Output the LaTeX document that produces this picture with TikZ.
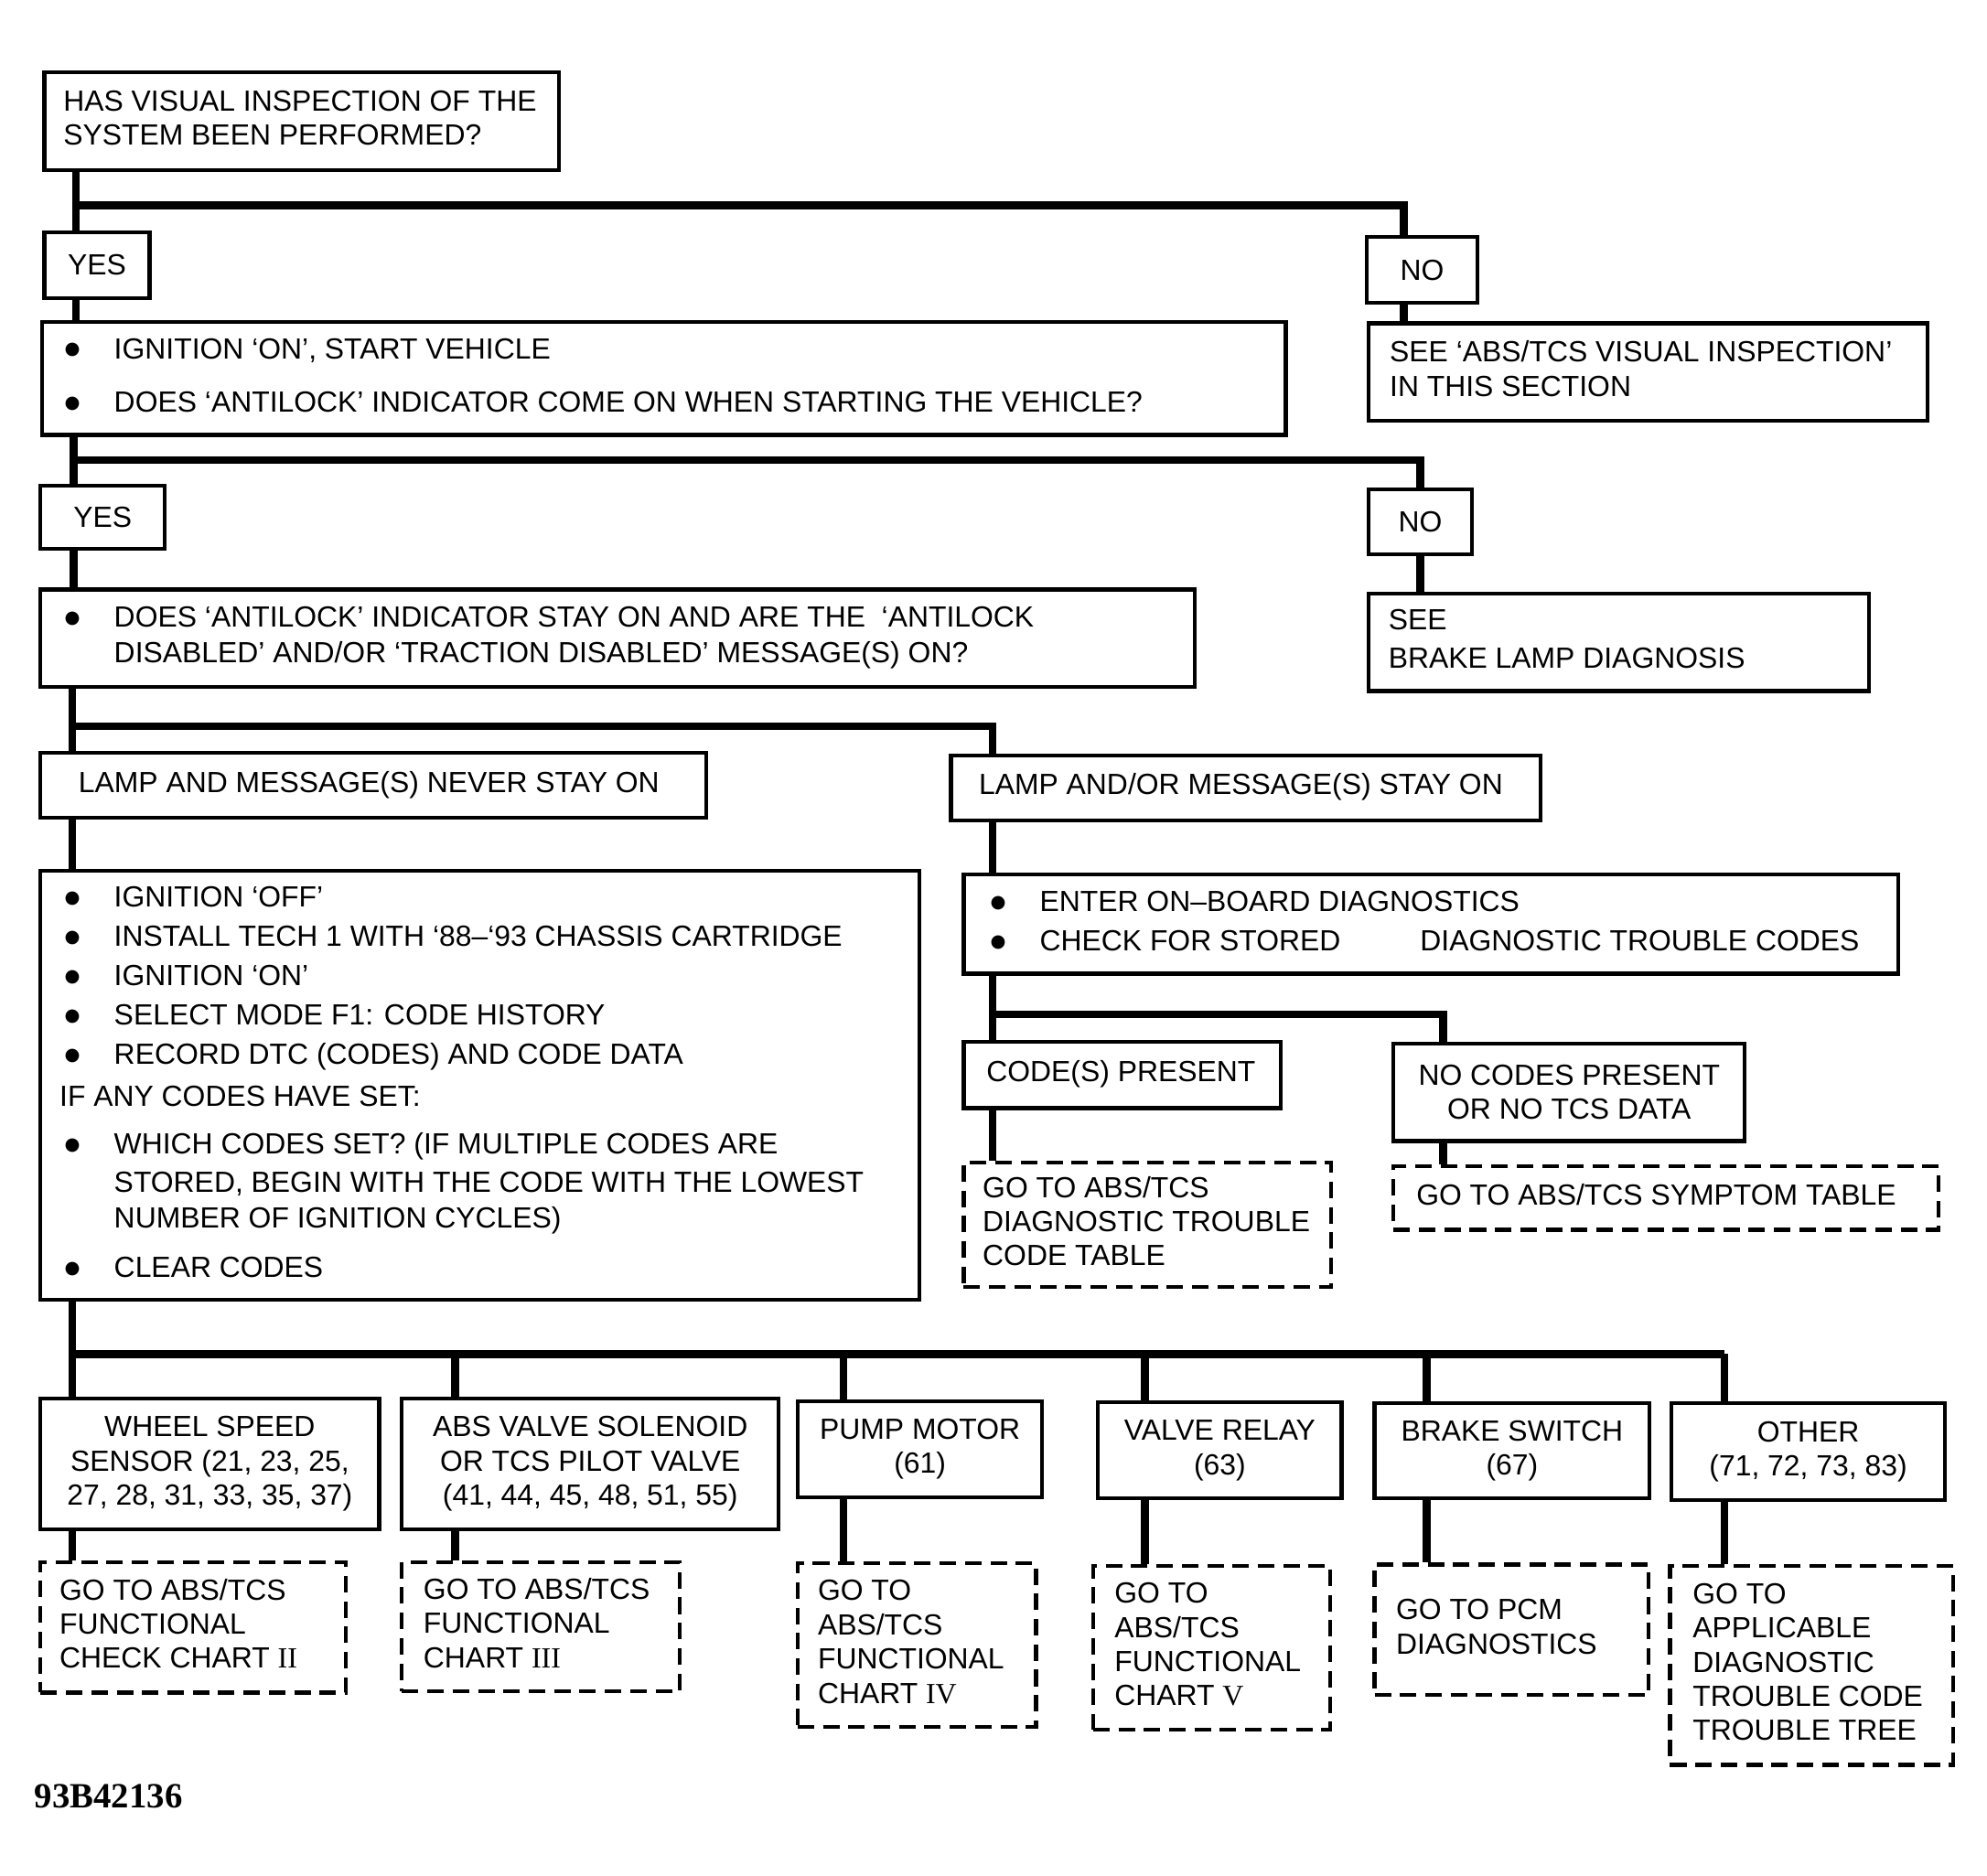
\documentclass[tikz,border=0pt]{standalone}
\usepackage{fontspec}
\setmainfont{Liberation Sans}
\newfontfamily\numfont{Liberation Serif}
\newfontfamily\dotfont{DejaVu Sans}

\newcommand\chartfont{\fontsize{23}{27}\selectfont}
\newcommand\bul{\makebox[39pt][l]{\raisebox{3pt}{\dotfont\fontsize{14}{14}\selectfont ●}}}
\newcommand\bulskip{\hspace*{39pt}}
\newcommand\boxlines[2]{\makebox[#1][l]{\begin{tabular}{@{}l@{}}#2\end{tabular}}}

\begin{document}
\begin{tikzpicture}[x=1pt, y=-1pt, font=\chartfont,
    box/.style={draw, line width=3pt, inner sep=0pt},
    goto/.style={box, dash pattern=on 13pt off 7pt},
    link/.style={line width=6pt}]
  \useasboundingbox (0,0) rectangle (1567,1479.7);

  % visual inspection
  \node[box, minimum width=406pt, minimum height=77pt] (Q1) at (238,95.5)
    {\boxlines{376pt}{HAS VISUAL INSPECTION OF THE\\SYSTEM BEEN PERFORMED?}};
  \node[box, minimum width=83pt, minimum height=52pt] (YES1) at (76.5,209) {YES};
  \node[box, minimum width=87pt, minimum height=52pt] (NO1) at (1121.5,213) {NO};
  \node[box, minimum width=441pt, minimum height=77pt] (SEE1) at (1299.5,293.5)
    {\boxlines{407pt}{SEE ‘ABS/TCS VISUAL INSPECTION’\\IN THIS SECTION}};
  \node[box, minimum width=981pt, minimum height=89pt] (B1) at (523.5,298.5)
    {\boxlines{945pt}{\bul IGNITION ‘ON’, START VEHICLE\\[15pt]
      \bul DOES ‘ANTILOCK’ INDICATOR COME ON WHEN STARTING THE VEHICLE?}};

  % antilock indicator
  \node[box, minimum width=98pt, minimum height=50pt] (YES2) at (81,408) {YES};
  \node[box, minimum width=82pt, minimum height=51pt] (NO2) at (1120,411.5) {NO};
  \node[box, minimum width=395pt, minimum height=77pt] (SEE2) at (1276.5,506.5)
    {\boxlines{363pt}{SEE\\[3pt]BRAKE LAMP DIAGNOSIS}};
  \node[box, minimum width=910pt, minimum height=77pt] (B2) at (487,503.5)
    {\boxlines{872pt}{\bul DOES ‘ANTILOCK’ INDICATOR STAY ON AND ARE THE \ ‘ANTILOCK\\[1pt]
      \bulskip DISABLED’ AND/OR ‘TRACTION DISABLED’ MESSAGE(S) ON?}};

  % lamp and messages
  \node[box, minimum width=525pt, minimum height=51pt] (L1) at (294.5,619.5)
    {\boxlines{465pt}{LAMP AND MESSAGE(S) NEVER STAY ON}};
  \node[box, minimum width=465pt, minimum height=51pt] (L2) at (982.5,621.5)
    {\boxlines{421pt}{LAMP AND/OR MESSAGE(S) STAY ON}};
  \node[box, minimum width=693pt, minimum height=338pt] (BIG) at (378.5,856)
    {\boxlines{655pt}{\bul IGNITION ‘OFF’\\[4pt]
      \bul INSTALL TECH 1 WITH ‘88–‘93 CHASSIS CARTRIDGE\\[4pt]
      \bul IGNITION ‘ON’\\[4pt]
      \bul SELECT MODE F1: CODE HISTORY\\[4pt]
      \bul RECORD DTC (CODES) AND CODE DATA\\[6pt]
      \hspace*{-4pt}IF ANY CODES HAVE SET:\\[11pt]
      \bul WHICH CODES SET? (IF MULTIPLE CODES ARE\\[3pt]
      \bulskip STORED, BEGIN WITH THE CODE WITH THE LOWEST\\[1pt]
      \bulskip NUMBER OF IGNITION CYCLES)\\[12pt]
      \bul CLEAR CODES}};
  \node[box, minimum width=737pt, minimum height=78pt] (OBD) at (1128.5,729)
    {\boxlines{695pt}{\bul ENTER ON–BOARD DIAGNOSTICS\\[4pt]
      \bul \makebox[300pt][l]{CHECK FOR STORED}DIAGNOSTIC TROUBLE CODES}};

  % stored codes
  \node[box, minimum width=250pt, minimum height=52pt] (CP) at (885,848)
    {\boxlines{214pt}{CODE(S) PRESENT}};
  \node[box, minimum width=277pt, minimum height=77pt, align=center] (NCP) at (1237.5,861.5)
    {NO CODES PRESENT\\OR NO TCS DATA};
  \node[goto, minimum width=290pt, minimum height=98pt] (DTC) at (905,966)
    {\boxlines{260pt}{GO TO ABS/TCS\\DIAGNOSTIC TROUBLE\\CODE TABLE}};
  \node[goto, minimum width=430pt, minimum height=50pt] (SYM) at (1314,945)
    {\boxlines{394pt}{GO TO ABS/TCS SYMPTOM TABLE}};

  % code groups
  \node[box, minimum width=267pt, minimum height=103pt, align=center] (WSS) at (165.5,1154.5)
    {WHEEL SPEED\\SENSOR (21, 23, 25,\\27, 28, 31, 33, 35, 37)};
  \node[box, minimum width=297pt, minimum height=103pt, align=center] (ABS) at (465.5,1154.5)
    {ABS VALVE SOLENOID\\OR TCS PILOT VALVE\\(41, 44, 45, 48, 51, 55)};
  \node[box, minimum width=193pt, minimum height=76pt, align=center] (PUMP) at (725.5,1143)
    {PUMP MOTOR\\(61)};
  \node[box, minimum width=192pt, minimum height=76pt, align=center] (VR) at (962,1144)
    {VALVE RELAY\\(63)};
  \node[box, minimum width=217pt, minimum height=75pt, align=center] (BS) at (1192.5,1144.5)
    {BRAKE SWITCH\\(67)};
  \node[box, minimum width=216pt, minimum height=76pt, align=center] (OTH) at (1426,1145)
    {OTHER\\(71, 72, 73, 83)};

  % go to charts
  \node[goto, minimum width=241pt, minimum height=103pt] (D1) at (152.5,1283.5)
    {\boxlines{211pt}{GO TO ABS/TCS\\FUNCTIONAL\\CHECK CHART {\numfont II}}};
  \node[goto, minimum width=219pt, minimum height=102pt] (D2) at (426.5,1283)
    {\boxlines{185pt}{GO TO ABS/TCS\\FUNCTIONAL\\CHART {\numfont III}}};
  \node[goto, minimum width=188pt, minimum height=129pt] (D3) at (723,1297.5)
    {\boxlines{156pt}{GO TO\\ABS/TCS\\FUNCTIONAL\\CHART {\numfont IV}}};
  \node[goto, minimum width=187pt, minimum height=129pt] (D4) at (955.5,1299.5)
    {\boxlines{153pt}{GO TO\\ABS/TCS\\FUNCTIONAL\\CHART {\numfont V}}};
  \node[goto, minimum width=216pt, minimum height=103pt] (D5) at (1192,1285.5)
    {\boxlines{182pt}{GO TO PCM\\DIAGNOSTICS\\ }};
  \node[goto, minimum width=223pt, minimum height=157pt] (D6) at (1428.5,1313.5)
    {\boxlines{187pt}{GO TO\\APPLICABLE\\DIAGNOSTIC\\TROUBLE CODE\\TROUBLE TREE}};

  \node[anchor=west, inner sep=0pt, font=\numfont\bfseries\fontsize{28}{30}\selectfont]
    (fig) at (27,1417) {93B42136};

  % connectors
  \coordinate (j1) at (60,162);  \coordinate (r1) at (1107,162);
  \coordinate (j2) at (58,363);  \coordinate (r2) at (1120,363);
  \coordinate (j3) at (57,573);  \coordinate (r3) at (783,573);
  \coordinate (r4) at (1138,800);
  \draw[link] (Q1.south -| j1) -- (YES1.north -| j1);
  \draw[link] (j1) -- (r1) -- (NO1.north -| r1);
  \draw[link] (YES1.south -| j1) -- (B1.north -| j1);
  \draw[link] (NO1.south -| r1) -- (SEE1.north -| r1);
  \draw[link] (B1.south -| j2) -- (YES2.north -| j2);
  \draw[link] (j2) -- (r2) -- (NO2.north -| r2);
  \draw[link] (YES2.south -| j2) -- (B2.north -| j2);
  \draw[link] (NO2.south -| r2) -- (SEE2.north -| r2);
  \draw[link] (B2.south -| j3) -- (L1.north -| j3);
  \draw[link] (j3) -- (r3) -- (L2.north -| r3);
  \draw[link] (L1.south -| j3) -- (BIG.north -| j3);
  \draw[link] (L2.south -| r3) -- (OBD.north -| r3);
  \draw[link] (OBD.south -| r3) -- (CP.north -| r3);
  \draw[link] (r4 -| r3) -- (r4) -- (NCP.north -| r4);
  \draw[link] (CP.south -| r3) -- (DTC.north -| r3);
  \draw[link] (NCP.south -| r4) -- (SYM.north -| r4);

  \foreach \up/\dn/\x in {WSS/D1/57, ABS/D2/359, PUMP/D3/665, VR/D4/903, BS/D5/1125, OTH/D6/1360} {
    \coordinate (bus-\up) at (\x,1068);
    \draw[link] (bus-\up) -- (\up.north -| bus-\up);
    \draw[link] (\up.south -| bus-\up) -- (\dn.north -| bus-\up);
  }
  \draw[link] (BIG.south -| j3) -- (bus-WSS) -- (bus-OTH);
\end{tikzpicture}
\end{document}
